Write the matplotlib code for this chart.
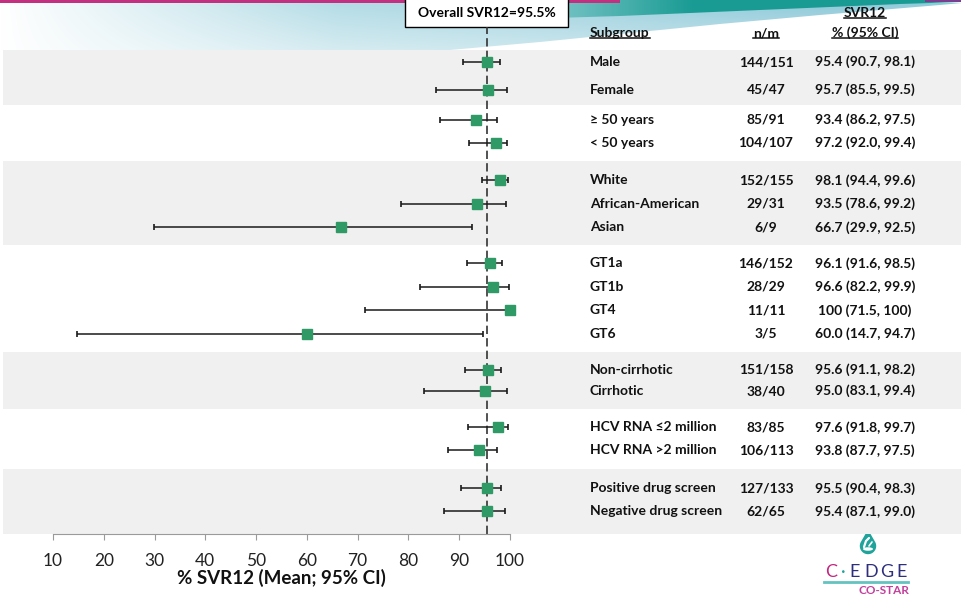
import matplotlib
matplotlib.use('Agg')
import matplotlib.pyplot as plt
import matplotlib.transforms as mtrans
import numpy as np
from matplotlib.patches import Polygon, Rectangle, Ellipse
from matplotlib.lines import Line2D

plt.rcParams['font.family'] = ['Lato', 'DejaVu Sans']

# ---- data ----
subgroups = ['Male', 'Female', '≥ 50 years', '< 50 years',
             'White', 'African-American', 'Asian',
             'GT1a', 'GT1b', 'GT4', 'GT6',
             'Non-cirrhotic', 'Cirrhotic',
             'HCV RNA ≤2 million', 'HCV RNA >2 million',
             'Positive drug screen', 'Negative drug screen']
group_sizes = [2, 2, 3, 4, 2, 2, 2]
n_resp = [144, 45, 85, 104, 152, 29, 6, 146, 28, 11, 3, 151, 38, 83, 106, 127, 62]
n_total = [151, 47, 91, 107, 155, 31, 9, 152, 29, 11, 5, 158, 40, 85, 113, 133, 65]
svr = [95.4, 95.7, 93.4, 97.2, 98.1, 93.5, 66.7, 96.1, 96.6, 100, 60.0,
       95.6, 95.0, 97.6, 93.8, 95.5, 95.4]
ci_low = [90.7, 85.5, 86.2, 92.0, 94.4, 78.6, 29.9, 91.6, 82.2, 71.5, 14.7,
          91.1, 83.1, 91.8, 87.7, 90.4, 87.1]
ci_high = [98.1, 99.5, 97.5, 99.4, 99.6, 99.2, 92.5, 98.5, 99.9, 100, 94.7,
           98.2, 99.4, 99.7, 97.5, 98.3, 99.0]
overall = 95.5
x_ticks = [10, 20, 30, 40, 50, 60, 70, 80, 90, 100]

# row layout (spacing inside each group, gap before the next group)
group_step = [1.2, 1.0, 1.02, 1.02, 0.92, 1.0, 1.0]
group_gap = [1.3, 1.65, 1.57, 1.57, 1.57, 1.65]

W, H = 962, 594
fig = plt.figure(figsize=(W / 100, H / 100), dpi=100)
fig.patch.set_facecolor('white')


def fmt(v):
    return '100' if v == 100 else f'{v:.1f}'


pos = []
groups = []
y = 0.0
for gi, g in enumerate(group_sizes):
    start = y
    for i in range(g):
        pos.append(y)
        if i < g - 1:
            y += group_step[gi]
    groups.append((start, y))
    if gi < len(group_gap):
        y += group_gap[gi]
pos = np.array(pos)

# ---- header decoration ----
hdr = fig.add_axes([0, 1 - 50 / H, 1, 50 / H])
hdr.set_xlim(0, W)
hdr.set_ylim(50, 0)
hdr.axis('off')

xx = np.linspace(0, 1, W)
yy = np.linspace(0, 1, 50)[:, None]
c0 = np.array([1.0, 1.0, 1.0])
c1 = np.array([0.70, 0.86, 0.90])
c2 = np.array([0.56, 0.79, 0.85])
t1 = np.clip(xx / 0.35, 0, 1)[None, :, None]
t2 = np.clip((xx - 0.35) / 0.5, 0, 1)[None, :, None]
base = c0 * (1 - t1) + c1 * t1
base = base * (1 - t2) + c2 * t2
img = base * (1 - 0.45 * yy[..., None]) + 0.45 * yy[..., None]
img = np.broadcast_to(img, (50, W, 3))
sw = Polygon([(0, 3), (962, 3), (940, 5), (820, 15), (720, 24), (620, 34),
              (540, 42), (450, 50), (0, 50)], closed=True, fc='none', ec='none')
hdr.add_patch(sw)
im = hdr.imshow(img, extent=(0, W, 50, 0), aspect='auto', zorder=1)
im.set_clip_path(sw)

ct0 = np.array([0.62, 0.83, 0.85])
ct1 = np.array([0.10, 0.61, 0.58])
tt = np.clip((xx - 0.52) / 0.2, 0, 1)[None, :, None]
timg = np.broadcast_to(ct0 * (1 - tt) + ct1 * tt, (50, W, 3))
teal = Polygon([(470, 0), (962, 0), (962, 2), (900, 4), (760, 10), (620, 16),
                (520, 19), (470, 20)], closed=True, fc='none', ec='none')
hdr.add_patch(teal)
im2 = hdr.imshow(timg, extent=(0, W, 50, 0), aspect='auto', zorder=2)
im2.set_clip_path(teal)
hdr.add_patch(Rectangle((0, 0), 620, 3, fc='#c2307f', ec='none', zorder=3))
hdr.add_patch(Rectangle((925, 0), 37, 2, fc='#7b3f8f', ec='none', zorder=3))

# overall box
hdr.add_patch(Rectangle((405, -2), 163, 29, fc='white', ec='black', lw=1, zorder=5))
hdr.text(486.5, 13, f'Overall SVR12={overall}%', ha='center', va='center',
         fontsize=10, fontweight='bold', color='black', zorder=6)

# ---- forest plot ----
px_per = (510 - 53) / 90.0
ax = fig.add_axes([0, 60 / H, 1, 484 / H])
ax.set_zorder(3)
ax.patch.set_alpha(0)
ax.set_xlim(10 - 53 / px_per, 10 + (W - 53) / px_per)
ytop, ybot = -12 / 23, pos[-1] + 0.99
ax.set_ylim(ybot, ytop)

for gi, (s, e) in enumerate(groups):
    if gi % 2 == 0:
        lo = ytop if gi == 0 else s - group_gap[gi - 1] / 2
        hi = ybot if gi == len(groups) - 1 else e + group_gap[gi] / 2
        ax.axhspan(lo, hi, xmin=3 / W, xmax=1, color='#f0f0f0', lw=0, zorder=0)

ax.axvline(overall, ymin=0, ymax=(534 - 27) / 484, clip_on=False,
           color='#333333', lw=1.2, dashes=(5, 2.5), zorder=1)

svr_a = np.array(svr)
xerr = [svr_a - np.array(ci_low), np.array(ci_high) - svr_a]
ax.errorbar(svr_a, pos, xerr=xerr, fmt='s', color='#2f9a66', ms=7.3,
            ecolor='#1a1a1a', elinewidth=1.1, capsize=2.3, capthick=1.2, zorder=3)

for side in ['top', 'left', 'right']:
    ax.spines[side].set_visible(False)
ax.spines['bottom'].set_bounds(x_ticks[0], x_ticks[-1])
ax.spines['bottom'].set_color('#9a9a9a')
ax.set_xticks(x_ticks)
ax.set_yticks([])
ax.tick_params(axis='x', direction='out', length=4.5, color='#9a9a9a',
               labelsize=12.5, labelcolor='#222222', pad=9.5)

lab_tr = mtrans.blended_transform_factory(ax.transData, fig.transFigure)
ax.text((x_ticks[0] + x_ticks[-1]) / 2, 1 - 584 / H, '% SVR12 (Mean; 95% CI)',
        transform=lab_tr, ha='center', va='baseline', fontsize=13.5,
        fontweight='bold', color='#111111')

# table columns
row_tr = mtrans.blended_transform_factory(fig.transFigure, ax.transData)
for i, p in enumerate(pos):
    ax.text(590 / W, p, subgroups[i], transform=row_tr, ha='left', va='center',
            fontsize=10, fontweight='bold', color='#111111')
    ax.text(766 / W, p, f'{n_resp[i]}/{n_total[i]}', transform=row_tr,
            ha='center', va='center', fontsize=10, fontweight='bold', color='#111111')
    ax.text(865 / W, p, f'{fmt(svr[i])} ({fmt(ci_low[i])}, {fmt(ci_high[i])})',
            transform=row_tr, ha='center', va='center', fontsize=10,
            fontweight='bold', color='#111111')

heads = [
    fig.text(590 / W, 1 - 33 / H, 'Subgroup', ha='left', va='center'),
    fig.text(766 / W, 1 - 33 / H, 'n/m', ha='center', va='center'),
    fig.text(865 / W, 1 - 13 / H, 'SVR12', ha='center', va='center'),
    fig.text(865 / W, 1 - 33 / H, '% (95% CI)', ha='center', va='center'),
]
for t in heads:
    t.set_fontsize(10)
    t.set_fontweight('bold')
    t.set_color('#111111')
    t.set_zorder(10)

# underline header labels
fig.canvas.draw()
r = fig.canvas.get_renderer()
for t in heads:
    bb = t.get_window_extent(r).transformed(fig.transFigure.inverted())
    fig.add_artist(Line2D([bb.x0, bb.x1], [bb.y0 + 1.0 / H, bb.y0 + 1.0 / H],
                          transform=fig.transFigure, color='#111111', lw=1.1, zorder=10))

# ---- logo ----
lg = fig.add_axes([820 / W, 0, 110 / W, 64 / H])
lg.set_xlim(820, 930)
lg.set_ylim(594, 530)
lg.axis('off')
cx, cy, rr = 868, 546, 8.2
th = np.radians(np.linspace(60, 300, 120))
dx = np.concatenate([[cx], cx + rr * np.sin(th), [cx]])
dy = np.concatenate([[cy - 2 * rr], cy - rr * np.cos(th), [cy - 2 * rr]])
lg.fill(dx, dy, color='#1fa39a', lw=0)
lg.add_patch(Ellipse((868, 549), 10, 3.5, fc='white', ec='none'))
lg.plot([864, 866, 869], [547, 541, 538], color='white', lw=1.6, solid_capstyle='round')
lg.plot([869, 872], [546, 542], color='white', lw=1.2, solid_capstyle='round')
lg.plot([824, 908], [582, 582], color='#63c3c0', lw=2)
letters = ['C', '·', 'E', 'D', 'G', 'E']
lcols = ['#c2267f', '#1fa39a', '#2d2f7d', '#2d2f7d', '#2d2f7d', '#2d2f7d']
lx = [831, 843, 855, 871, 887, 902]
for ch, c, xp in zip(letters, lcols, lx):
    lg.text(xp, 572, ch, ha='center', va='center', fontsize=13, color=c)
lg.text(884, 590, 'CO-STAR', ha='center', va='center', fontsize=8.5,
        fontweight='bold', color='#c2409c')

fig.savefig('out.png', dpi=100)
